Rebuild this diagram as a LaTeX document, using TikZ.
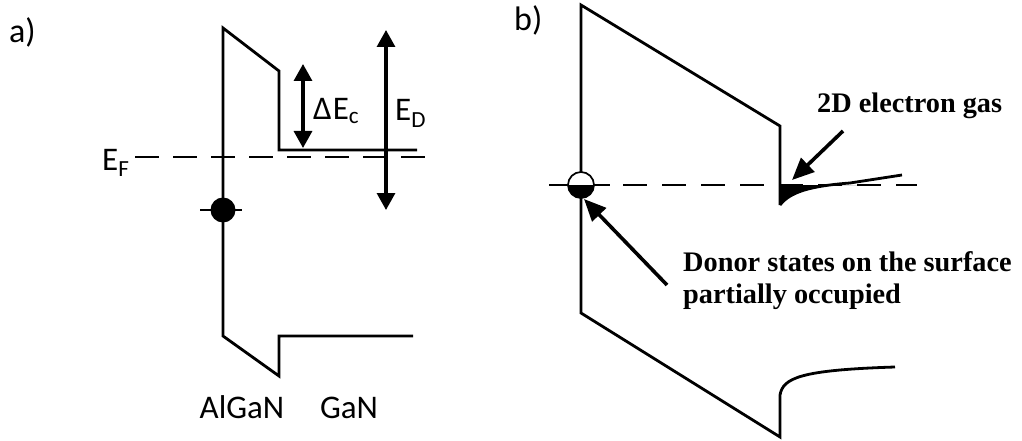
\documentclass[tikz,border=0pt]{standalone}
\usepackage{fontspec}
\setmainfont{Liberation Serif}
\newfontfamily\calfont{Carlito}
\usetikzlibrary{arrows.meta,positioning}

\begin{document}
\begin{tikzpicture}[
  x=1pt, y=-1pt,
  band/.style={line width=2.8pt, line join=miter},
  fermi/.style={line width=2pt, dash pattern=on 24pt off 14pt},
  thinline/.style={line width=1.7pt},
  darr/.style={{Triangle[length=17pt,width=18pt]}-{Triangle[length=17pt,width=18pt]}, line width=3.2pt},
  parr/.style={-{Triangle[length=22pt,width=19pt]}, line width=3.6pt},
  lbl/.style={font=\calfont\fontsize{33}{39}\selectfont, inner sep=0pt},
  note/.style={font=\bfseries\fontsize{28.3}{32}\selectfont, align=left, inner sep=0pt}
]
\useasboundingbox (0,0) rectangle (1022,441);

% a) flat bands
\node[lbl, font=\calfont\fontsize{34}{40}\selectfont, anchor=base west] (tagA) at (9,43) {a)};
\draw[band] (417,150) -- (279,150) -- (279,71) -- (223,28) -- (223,336) -- (279,376) -- (279,336) -- (413,336);
\draw[fermi] (135,157) -- (428,157);
\node[lbl, anchor=base west] (EF) at (102,170) {E\textsubscript{F}};
\draw[thinline] (200,210) -- (242,210);
\fill (223,210) circle (12.5);
\coordinate (dEtop) at (303,64);
\coordinate (dEbot) at (303,148);
\coordinate (EDtop) at (386,30);
\coordinate (EDbot) at (386,210);
\draw[darr] (dEtop) -- (dEbot);
\draw[darr] (EDtop) -- (EDbot);
\node[lbl, anchor=base west] (dEc) at (313,120) {Δ\kern1pt E\textsubscript{c}};
\node[lbl, anchor=base west] (ED) at (395,121) {E\textsubscript{D}};
\node[lbl, anchor=base] (algan) at (242,418) {AlGaN};
\node[lbl, anchor=base] (gan) at (349,418) {GaN};

% b) with polarization
\node[lbl, font=\calfont\fontsize{34}{40}\selectfont, anchor=base west] (tagB) at (514,31) {b)};
\draw[band] (780,205) -- (780,126) -- (581,5) -- (581,313) -- (780,437) -- (780,395)
  .. controls (783,378) and (800,370) .. (895,367);
\draw[band] (780,205) .. controls (790,192) and (810,186) .. (850,183) -- (902,175);
\begin{scope}
  \clip (780,185) rectangle (870,210);
  \fill (780,185) -- (780,205) .. controls (790,192) and (810,186) .. (850,183) -- (870,181) -- (870,185) -- cycle;
\end{scope}
\draw[thinline] (549,185) -- (610,185);
\draw[thinline, dash pattern=on 24pt off 15pt] (623,185) -- (917,185);
\draw[thinline, fill=white] (581,185) circle (13);
\begin{scope}
  \clip (565,185) rectangle (597,200);
  \fill (581,185) circle (13);
\end{scope}
\coordinate (gastail) at (843,131);
\coordinate (gastip) at (792,180);
\coordinate (donortail) at (667,285);
\coordinate (donortip) at (584,199);
\draw[parr] (gastail) -- (gastip);
\draw[parr] (donortail) -- (donortip);
\node[note, anchor=base west] (gas) at (817,113) {2D electron gas};
\node[note, anchor=base west] (donor) at (683,303) {Donor states on the surface\\partially occupied};
\end{tikzpicture}
\end{document}
